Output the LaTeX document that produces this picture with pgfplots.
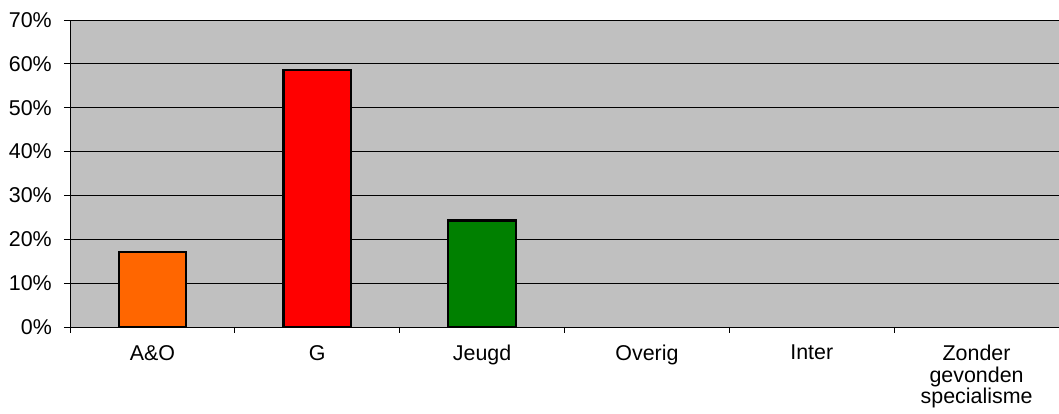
\documentclass[border=0pt]{standalone}
\usepackage{fontspec}
\setmainfont{Liberation Sans}
\usepackage{pgfplots}
\pgfplotsset{compat=1.18}
\definecolor{plotbg}{HTML}{C0C0C0}
\definecolor{barorange}{HTML}{FF6600}
\definecolor{barred}{HTML}{FF0000}
\definecolor{bargreen}{HTML}{008000}
\begin{document}
\begin{tikzpicture}
\begin{axis}[
    at={(70bp,87bp)}, anchor=south west,
    scale only axis, width=989bp, height=307bp,
    xmin=-0.5, xmax=5.5, ymin=0, ymax=70,
    axis lines*=left,
    axis line style={black, line width=1bp},
    axis background/.style={fill=plotbg},
    ymajorgrids, grid style={black, line width=0.8bp},
    ytick={0,10,...,70},
    yticklabel={\pgfmathprintnumber{\tick}\%},
    xtick={0,...,5},
    xticklabels={A\&O, G, Jeugd, Overig, Inter, {Zonder\\gevonden\\specialisme}},
    minor xtick={-0.5,0.5,...,5.5},
    tick align=outside,
    major tick length=6bp, minor tick length=6bp,
    tick style={black, line width=0.8bp},
    major x tick style={draw=none},
    tick label style={font=\fontsize{21.5}{21.7}\selectfont},
    xticklabel style={align=center, anchor=north, inner sep=0pt, yshift=-12bp},
    yticklabel style={anchor=east, inner sep=0pt, xshift=-12bp},
    /pgf/number format/assume math mode=true,
]
\addplot[ybar, bar width=0.41, bar shift=0pt, fill=barorange, draw=black, line width=2.2bp] coordinates {(0,17.1)};
\addplot[ybar, bar width=0.41, bar shift=0pt, fill=barred, draw=black, line width=2.2bp] coordinates {(1,58.6)};
\addplot[ybar, bar width=0.41, bar shift=0pt, fill=bargreen, draw=black, line width=2.2bp] coordinates {(2,24.3)};
\end{axis}
\pgfresetboundingbox
\useasboundingbox (0,0) rectangle (1059bp,414bp);
\end{tikzpicture}
\end{document}
